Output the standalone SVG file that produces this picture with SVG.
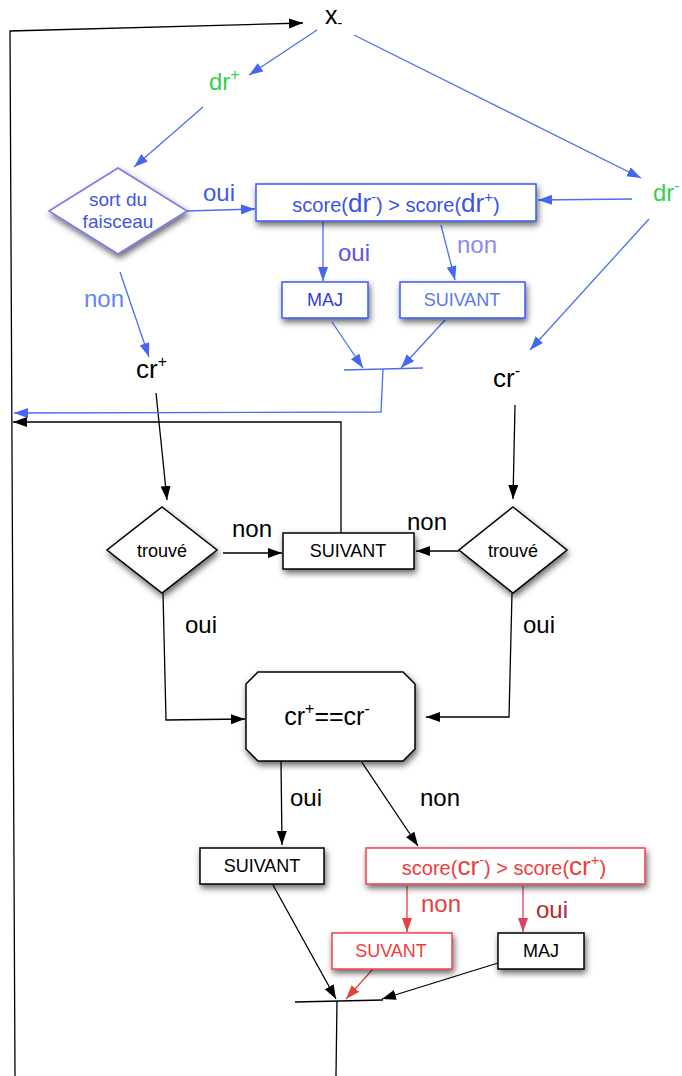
<svg xmlns="http://www.w3.org/2000/svg" width="682" height="1076" viewBox="0 0 682 1076">
<style>
text{font-family:"Liberation Sans",Arial,sans-serif;}
.k{fill:none;stroke:#000;stroke-width:1.3;}
.b{fill:none;stroke:#4a6ef5;stroke-width:1.3;}
.r{fill:none;stroke:#e8403a;stroke-width:1.3;}
.p{fill:none;stroke:#e04060;stroke-width:1.3;}
.nb{fill:#fff;stroke:#3a5cf5;stroke-width:1.5;filter:url(#sh);}
.nk{fill:#fff;stroke:#000;stroke-width:1.5;filter:url(#sh);}
.nr{fill:#fff;stroke:#f04050;stroke-width:1.5;filter:url(#sh);}
.lbl{font-size:24px;}
.box{font-size:18px;text-anchor:middle;}
.grn{fill:#36d04c;font-size:24px;}
</style>
<defs>
<filter id="sh" x="-20%" y="-30%" width="150%" height="180%"><feDropShadow dx="1.5" dy="3.5" stdDeviation="3" flood-color="#000" flood-opacity="0.6"/></filter>
<marker id="ak" markerUnits="userSpaceOnUse" markerWidth="16" markerHeight="12" refX="14" refY="5" orient="auto"><path d="M0,0 L14,5 L0,10 z" fill="#000"/></marker>
<marker id="ab" markerUnits="userSpaceOnUse" markerWidth="16" markerHeight="12" refX="14" refY="5" orient="auto"><path d="M0,0 L14,5 L0,10 z" fill="#4466f0"/></marker>
<marker id="ar" markerUnits="userSpaceOnUse" markerWidth="16" markerHeight="12" refX="14" refY="5" orient="auto"><path d="M0,0 L14,5 L0,10 z" fill="#e8403a"/></marker>
<marker id="ap" markerUnits="userSpaceOnUse" markerWidth="16" markerHeight="12" refX="14" refY="5" orient="auto"><path d="M0,0 L14,5 L0,10 z" fill="#e04060"/></marker>
</defs>

<g id="connectors">
<polyline class="k" points="15,1076 10,31 303,23" marker-end="url(#ak)"/>
<polyline class="k" points="341,533 341,422 13,422" marker-end="url(#ak)"/>
<line class="k" x1="156" y1="393" x2="167" y2="500" marker-end="url(#ak)"/>
<line class="k" x1="515" y1="405" x2="513" y2="499" marker-end="url(#ak)"/>
<line class="k" x1="223" y1="553" x2="282" y2="553" marker-end="url(#ak)"/>
<line class="k" x1="459" y1="551" x2="416" y2="551" marker-end="url(#ak)"/>
<polyline class="k" points="163,593 166,720 245,719" marker-end="url(#ak)"/>
<polyline class="k" points="512,593 509,717 426,717" marker-end="url(#ak)"/>
<line class="k" x1="281" y1="761" x2="282" y2="845" marker-end="url(#ak)"/>
<line class="k" x1="361" y1="761" x2="418" y2="846" marker-end="url(#ak)"/>
<line class="k" x1="273" y1="885" x2="336" y2="999" marker-end="url(#ak)"/>
<line class="k" x1="498" y1="963" x2="382" y2="999" marker-end="url(#ak)"/>
<line class="k" x1="295" y1="1002" x2="383" y2="1000"/>
<line class="k" x1="337" y1="1001" x2="336" y2="1076"/>
<line class="r" x1="407" y1="886" x2="407" y2="932" marker-end="url(#ar)"/>
<line class="p" x1="523" y1="886" x2="523" y2="932" marker-end="url(#ap)"/>
<line class="r" x1="373" y1="969" x2="346" y2="999" marker-end="url(#ar)"/>
<line class="b" x1="317" y1="30" x2="249" y2="75" marker-end="url(#ab)"/>
<line class="b" x1="354" y1="35" x2="641" y2="178" marker-end="url(#ab)"/>
<line class="b" x1="203" y1="107" x2="134" y2="167" marker-end="url(#ab)"/>
<line class="b" x1="187" y1="211" x2="255" y2="209" marker-end="url(#ab)"/>
<line class="b" x1="632" y1="199" x2="538" y2="200" marker-end="url(#ab)"/>
<line class="b" x1="323" y1="222" x2="323" y2="281" marker-end="url(#ab)"/>
<line class="b" x1="441" y1="225" x2="455" y2="280" marker-end="url(#ab)"/>
<line class="b" x1="120" y1="272" x2="149" y2="357" marker-end="url(#ab)"/>
<line class="b" x1="649" y1="219" x2="530" y2="350" marker-end="url(#ab)"/>
<line class="b" x1="332" y1="322" x2="363" y2="368" marker-end="url(#ab)"/>
<line class="b" x1="445" y1="320" x2="401" y2="368" marker-end="url(#ab)"/>
<line class="b" x1="344" y1="370" x2="423" y2="368"/>
<polyline class="b" points="383,369 381,412 14,413" marker-end="url(#ab)"/>
</g>

<g id="labels">
<text class="lbl" x="203" y="201" fill="#3d58e8">oui</text>
<text class="lbl" x="338" y="261" fill="#5c54e4">oui</text>
<text class="lbl" x="457" y="253" fill="#8c88f0">non</text>
<text class="lbl" x="84" y="307" fill="#5f86f2">non</text>
<text class="lbl" x="232" y="537" fill="#000">non</text>
<text class="lbl" x="407" y="530" fill="#000">non</text>
<text class="lbl" x="185" y="633" fill="#000">oui</text>
<text class="lbl" x="523" y="633" fill="#000">oui</text>
<text class="lbl" x="290" y="806" fill="#000">oui</text>
<text class="lbl" x="420" y="806" fill="#000">non</text>
<text class="lbl" x="421" y="912" fill="#e84040">non</text>
<text class="lbl" x="536" y="918" fill="#b82832">oui</text>
</g>

<g id="n-x"><text x="325" y="24" font-size="25" fill="#000">x<tspan font-size="14" dy="3.5">-</tspan></text></g>
<g id="n-drplus"><text class="grn" x="209" y="90">dr<tspan font-size="16" dy="-10">+</tspan></text></g>
<g id="n-drminus"><text class="grn" x="653" y="201">dr<tspan font-size="16" dy="-10">-</tspan></text></g>

<g id="n-faisceau">
<polygon class="nb" points="118,168 187,211 118,254 49,211" style="stroke:#7b78ec"/>
<text x="118" y="206" font-size="19" text-anchor="middle" fill="#4454e4">sort du</text>
<text x="118" y="228" font-size="19" text-anchor="middle" fill="#4454e4">faisceau</text>
</g>

<g id="n-score-dr">
<rect class="nb" x="256" y="184" width="280" height="37"/>
<text x="396" y="212" text-anchor="middle" fill="#3c52e6" font-size="20">score(<tspan font-size="26">dr</tspan><tspan font-size="15" dy="-10">-</tspan><tspan dy="10">) &gt; score(</tspan><tspan font-size="26">dr</tspan><tspan font-size="15" dy="-10">+</tspan><tspan dy="10">)</tspan></text>
</g>

<g id="n-maj-blue">
<rect class="nb" x="282" y="282" width="86" height="36"/>
<text class="box" x="325" y="306" fill="#2c40d8">MAJ</text>
</g>

<g id="n-suivant-blue">
<rect class="nb" x="400" y="282" width="125" height="36"/>
<text class="box" x="462" y="306" fill="#5a78f0">SUIVANT</text>
</g>

<g id="n-crplus"><text x="136" y="378" font-size="26" fill="#000">cr<tspan font-size="16" dy="-11">+</tspan></text></g>
<g id="n-crminus"><text x="493" y="387" font-size="26" fill="#000">cr<tspan font-size="16" dy="-11">-</tspan></text></g>

<g id="n-trouve-left">
<polygon class="nk" points="162,507 217,550 162,593 107,550"/>
<text class="box" x="162" y="557" fill="#000">trouvé</text>
</g>

<g id="n-trouve-right">
<polygon class="nk" points="513,507 567,550 513,593 459,550"/>
<text class="box" x="513" y="557" fill="#000">trouvé</text>
</g>

<g id="n-suivant-mid">
<rect class="nk" x="283" y="533" width="131" height="36"/>
<text class="box" x="348" y="557" fill="#000">SUIVANT</text>
</g>

<g id="n-equal">
<polygon class="nk" points="258,672 403,672 415,684 415,749 403,761 258,761 246,749 246,684"/>
<text x="327" y="725" font-size="25" text-anchor="middle" fill="#000">cr<tspan font-size="16" dy="-11">+</tspan><tspan dy="11">==cr</tspan><tspan font-size="16" dy="-11">-</tspan></text>
</g>

<g id="n-suivant-bottom">
<rect class="nk" x="200" y="848" width="124" height="36"/>
<text class="box" x="262" y="872" fill="#000">SUIVANT</text>
</g>

<g id="n-score-cr">
<rect class="nr" x="366" y="848" width="279" height="36"/>
<text x="504" y="875" text-anchor="middle" fill="#f03c3c" font-size="20">score(<tspan font-size="26">cr</tspan><tspan font-size="15" dy="-10">-</tspan><tspan dy="10">) &gt; score(</tspan><tspan font-size="26">cr</tspan><tspan font-size="15" dy="-10">+</tspan><tspan dy="10">)</tspan></text>
</g>

<g id="n-suvant-red">
<rect class="nr" x="332" y="933" width="120" height="36"/>
<text class="box" x="391" y="957" fill="#f03c3c">SUVANT</text>
</g>

<g id="n-maj-black">
<rect class="nk" x="498" y="933" width="86" height="36"/>
<text class="box" x="541" y="957" fill="#000">MAJ</text>
</g>
</svg>
